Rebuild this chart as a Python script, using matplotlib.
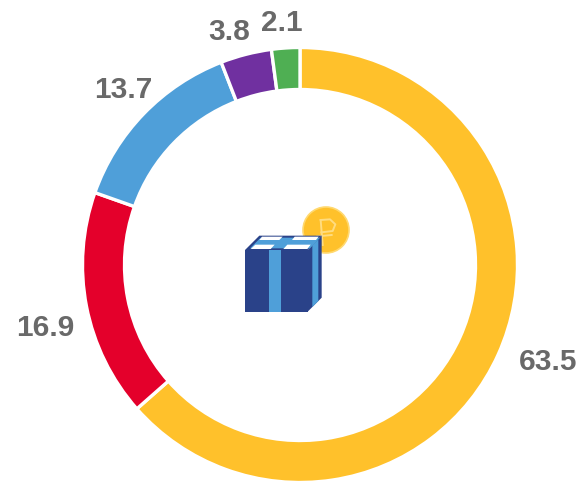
import matplotlib
matplotlib.use("Agg")
import matplotlib.pyplot as plt
from matplotlib.patches import Circle, Polygon

values = [63.5, 16.9, 13.7, 3.8, 2.1]
colors = ["#FFC12B", "#E4002B", "#4F9FD9", "#7030A0", "#4FAF53"]
labels = ["63.5", "16.9", "13.7", "3.8", "2.1"]
label_pos = [(548, 362), (45, 328), (123, 90), (229, 32), (282, 23)]

W, H = 579, 482

def flip(pts):
    # picture pixels have y going down
    return [(x, H - y) for x, y in pts]

def zoomed(pts):
    return flip([(230 + x / 3, 195 + y / 3) for x, y in pts])

def shape(ax, pts, color, z=3):
    ax.add_patch(Polygon(zoomed(pts), closed=True, facecolor=color, edgecolor="none", zorder=z))

fig = plt.figure(figsize=(5.79, 4.82), dpi=100)
ax = fig.add_axes([0, 0, 1, 1])

ax.pie(values, colors=colors, startangle=90, counterclock=False, center=(300, H - 265), radius=217.5,
       wedgeprops=dict(width=42, edgecolor="white", linewidth=2.4))
ax.set_xlim(0, W)
ax.set_ylim(0, H)
ax.set_aspect("equal")
ax.axis("off")

for lab, (x, y) in zip(labels, label_pos):
    ax.text(x, H - y, lab, ha="center", va="center", fontsize=21.5, fontweight="bold",
            family="Liberation Sans", color="#696969")

# coin
cx, cy = zoomed([(288, 105)])[0]
ax.add_patch(Circle((cx, cy), 23, facecolor="#FFC12B", edgecolor="#FFD970", linewidth=1.2, zorder=2))
ax.plot(*zip(*zoomed([(278, 150), (272, 75)])), color="#FFDC80", linewidth=1.4, zorder=2)
ruble = [(272, 75), (300, 73), (316, 88), (308, 108), (274, 112)]
ax.plot(*zip(*zoomed(ruble)), color="#FFDC80", linewidth=1.4, zorder=2)
ax.plot(*zip(*zoomed([(262, 124), (305, 120)])), color="#FFDC80", linewidth=1.4, zorder=2)

# box
shape(ax, [(45, 165), (88, 122), (275, 122), (233, 165)], "#2A4289")
shape(ax, [(45, 165), (233, 165), (233, 350), (45, 350)], "#2A4289")
shape(ax, [(233, 165), (275, 122), (275, 308), (233, 350)], "#2A4289")
shape(ax, [(247, 151), (265, 133), (265, 318), (247, 336)], "#4F9FD9", 4)
shape(ax, [(60, 160), (240, 160), (270, 128), (92, 128)], "#4F9FD9", 4)
shape(ax, [(117, 165), (152, 165), (152, 350), (117, 350)], "#4F9FD9", 4)
shape(ax, [(62, 162), (122, 162), (134, 149), (76, 149)], "white", 5)
shape(ax, [(160, 162), (232, 162), (242, 149), (172, 149)], "white", 5)
shape(ax, [(88, 135), (148, 135), (158, 125), (96, 125)], "white", 5)
shape(ax, [(186, 135), (258, 135), (266, 125), (194, 125)], "white", 5)

fig.savefig("out.png", dpi=100)
